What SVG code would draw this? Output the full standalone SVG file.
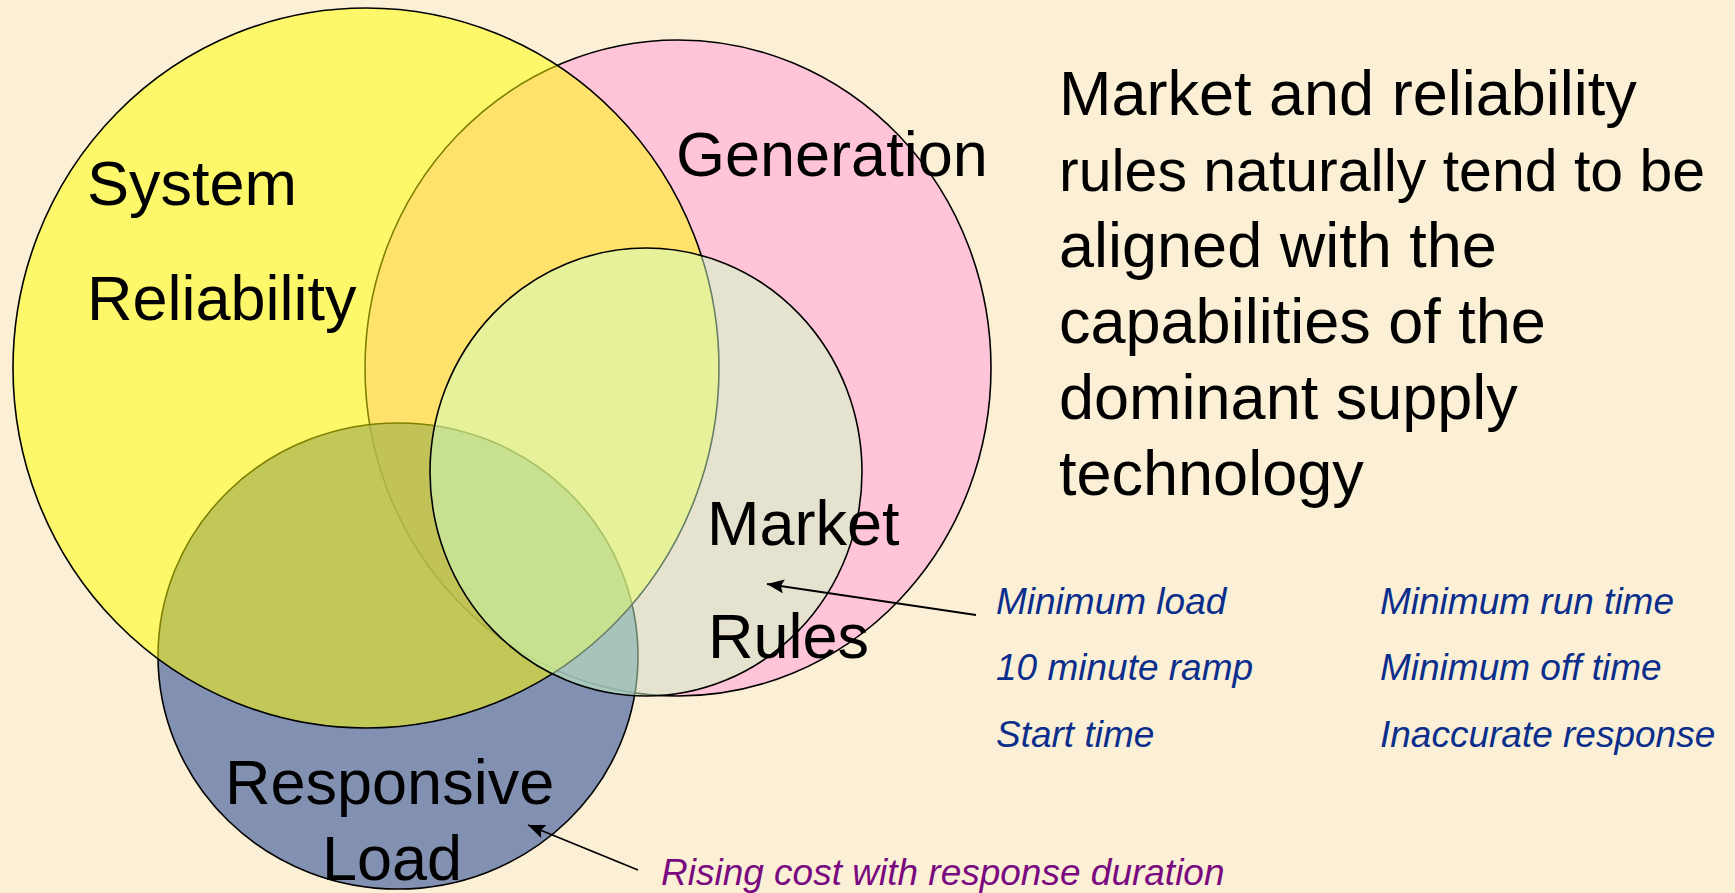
<svg xmlns="http://www.w3.org/2000/svg" width="1735" height="893" viewBox="0 0 1735 893">
  <defs>
    <style>
      .shape { stroke: #000; stroke-width: 1.6; }
      .big { font-family: "Liberation Sans", Arial, sans-serif; font-size: 63px; fill: #000; }
      .item { font-family: "Liberation Sans", Arial, sans-serif; font-size: 37px; font-style: italic; fill: #0B2E8C; }
      .note { font-family: "Liberation Sans", Arial, sans-serif; font-size: 37px; font-style: italic; fill: #7A0A80; }
      .conn { stroke: #000; stroke-width: 1.8; fill: none; marker-end: url(#arrow); }
    </style>
    <marker id="arrow" markerUnits="userSpaceOnUse" markerWidth="20" markerHeight="16" refX="17" refY="7" orient="auto">
      <path d="M0,0 L17,7 L0,14 L3,7 Z" fill="#000"/>
    </marker>
  </defs>
  <rect x="0" y="0" width="1735" height="893" fill="#FBF0D5"/>

  <g id="node-generation">
    <ellipse class="shape" cx="678" cy="368" rx="313" ry="328" fill="#FFC4D8"/>
  </g>
  <g id="node-responsive-load">
    <ellipse class="shape" cx="398" cy="656" rx="240" ry="233" fill="#6478A8" fill-opacity="0.8"/>
  </g>
  <g id="node-system-reliability">
    <ellipse class="shape" cx="366" cy="368" rx="353" ry="360" fill="#FFFF00" fill-opacity="0.5"/>
  </g>
  <g id="node-market-rules">
    <ellipse class="shape" cx="646" cy="472" rx="216" ry="224" fill="#CDFFC8" fill-opacity="0.5"/>
  </g>

  <g id="labels">
    <text class="big" x="87" y="205">System</text>
    <text class="big" x="87" y="320">Reliability</text>
    <text class="big" x="676" y="176">Generation</text>
    <text class="big" x="707" y="545">Market</text>
    <text class="big" x="708" y="658">Rules</text>
    <text class="big" x="225" y="804">Responsive</text>
    <text class="big" x="322" y="880">Load</text>
  </g>

  <g id="node-statement">
    <text class="big" x="1059" y="115">Market and reliability</text>
    <text class="big" x="1059" y="191" style="font-size:59px">rules naturally tend to be</text>
    <text class="big" x="1059" y="267">aligned with the</text>
    <text class="big" x="1059" y="343">capabilities of the</text>
    <text class="big" x="1059" y="419">dominant supply</text>
    <text class="big" x="1059" y="495">technology</text>
  </g>

  <g id="node-market-issues">
    <text class="item" x="996" y="614">Minimum load</text>
    <text class="item" x="996" y="680">10 minute ramp</text>
    <text class="item" x="996" y="747">Start time</text>
    <text class="item" x="1380" y="614">Minimum run time</text>
    <text class="item" x="1380" y="680">Minimum off time</text>
    <text class="item" x="1380" y="747">Inaccurate response</text>
  </g>

  <g id="node-load-issue">
    <text class="note" x="661" y="885">Rising cost with response duration</text>
  </g>

  <g id="connectors">
    <line class="conn" x1="976" y1="615" x2="767" y2="584"/>
    <line class="conn" x1="638" y1="870" x2="528" y2="825"/>
  </g>
</svg>
